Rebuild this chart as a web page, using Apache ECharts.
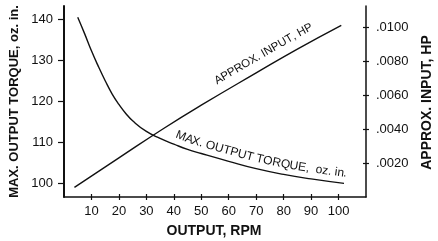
<!DOCTYPE html>
<html>
<head>
<meta charset="utf-8">
<style>
html,body{margin:0;padding:0;background:#fff}
#main{width:438px;height:241px}
</style>
<script src="https://cdn.jsdelivr.net/npm/echarts@6/dist/echarts.min.js"></script>
</head>
<body>
<div id="main"></div>
<script>
var rpmTorque = [5, 7.5, 10, 12.5, 15, 17.5, 20, 22.5, 25, 30, 35, 40, 45, 50, 60, 70, 80, 90, 102]
var torque = [140.5, 136.5, 132.3, 128.5, 125.0, 121.8, 119.2, 117.0, 115.2, 112.6, 110.9, 109.5, 108.2, 107.2, 105.3, 103.5, 102.1, 101.0, 99.9]
var rpmInput = [3.8, 20, 36, 50, 70, 85, 101]
var inputHp = [0.00057, 0.0023, 0.0040, 0.0054, 0.0073, 0.0087, 0.0101]
var rpmLabels = [10, 20, 30, 40, 50, 60, 70, 80, 90, 100]
var torqueTicks = [100, 110, 120, 130, 140]
var hpTicks = [0.002, 0.004, 0.006, 0.008, 0.010]

var font = '"Liberation Sans", Arial, Helvetica, sans-serif'
var black = '#111'

function pairs(xs, ys) {
  var out = []
  for (var i = 0; i < xs.length; i++) out.push([xs[i], ys[i]])
  return out
}
function interp(xs, ys, x) {
  for (var i = 1; i < xs.length; i++) {
    if (x <= xs[i]) {
      var t = (x - xs[i - 1]) / (xs[i] - xs[i - 1])
      return ys[i - 1] + t * (ys[i] - ys[i - 1])
    }
  }
  return ys[ys.length - 1]
}

var myChart = echarts.init(document.getElementById('main'))
var option = {
  animation: false,
  backgroundColor: '#fff',
  grid: { left: 64, right: 72, top: 6, bottom: 44 },
  xAxis: [
    {
      type: 'value', min: 0, max: 110, interval: 10,
      axisLine: { show: true, onZero: false, lineStyle: { color: black, width: 1.5 } },
      axisTick: { show: true, customValues: rpmLabels, length: 3, lineStyle: { color: black, width: 1.2 } },
      axisLabel: { customValues: rpmLabels, color: black, fontSize: 13, fontFamily: font, margin: 8 },
      splitLine: { show: false }
    },
    {
      type: 'value', min: 0, max: 110, position: 'bottom',
      axisLine: { show: false, onZero: false },
      axisTick: { show: true, customValues: rpmLabels, inside: true, length: 3, lineStyle: { color: black, width: 1.2 } },
      axisLabel: { show: false },
      splitLine: { show: false }
    }
  ],
  yAxis: [
    {
      type: 'value', min: 96.58, max: 143.25, position: 'left',
      axisLine: { show: true, onZero: false, lineStyle: { color: black, width: 2 } },
      axisTick: { show: true, customValues: torqueTicks, length: 6, lineStyle: { color: black, width: 1.2 } },
      axisLabel: { customValues: torqueTicks, color: black, fontSize: 13, fontFamily: font, margin: 11 },
      splitLine: { show: false }
    },
    {
      type: 'value', min: 0, max: 0.011235, position: 'right',
      axisLine: { show: true, onZero: false, lineStyle: { color: black, width: 1.5 } },
      axisTick: { show: true, customValues: hpTicks, length: 3, lineStyle: { color: black, width: 1.2 } },
      axisLabel: {
        customValues: hpTicks, color: black, fontSize: 13, fontFamily: font, margin: 10,
        formatter: function (v) { return v.toFixed(4).replace('0.', '.') }
      },
      splitLine: { show: false }
    },
    {
      type: 'value', min: 0, max: 0.011235, position: 'right',
      axisLine: { show: false, onZero: false },
      axisTick: { show: true, inside: true, customValues: hpTicks, length: 3, lineStyle: { color: black, width: 1.2 } },
      axisLabel: { show: false },
      splitLine: { show: false }
    }
  ],
  series: [
    {
      name: 'MAX. OUTPUT TORQUE', type: 'line', xAxisIndex: 0, yAxisIndex: 0,
      data: pairs(rpmTorque, torque), smooth: true, showSymbol: false,
      lineStyle: { color: black, width: 1.4 }
    },
    {
      name: 'APPROX. INPUT, HP', type: 'line', xAxisIndex: 0, yAxisIndex: 1,
      data: pairs(rpmInput, inputHp), smooth: true, showSymbol: false,
      lineStyle: { color: black, width: 1.4 }
    }
  ]
}
myChart.setOption(option)

// lay text out letter by letter along a curve, just above it
var ctx = document.createElement('canvas').getContext('2d')
function textOnCurve(text, xs, ys, axis, rpmStart, gap, size) {
  var finder = { xAxisIndex: 0, yAxisIndex: axis }
  var f = size + 'px ' + font
  ctx.font = f
  var out = []
  var rpm = rpmStart
  for (var i = 0; i < text.length; i++) {
    var ch = text[i]
    var w = ctx.measureText(ch).width
    var p = myChart.convertToPixel(finder, [rpm, interp(xs, ys, rpm)])
    var q = myChart.convertToPixel(finder, [rpm + 2, interp(xs, ys, rpm + 2)])
    var a = Math.atan2(q[1] - p[1], q[0] - p[0])
    if (ch !== ' ') {
      out.push({
        type: 'text', x: p[0] + Math.sin(a) * gap, y: p[1] - Math.cos(a) * gap, rotation: -a,
        style: { text: ch, fill: black, font: f, align: 'left', verticalAlign: 'bottom' }
      })
    }
    var back = myChart.convertFromPixel(finder, [p[0] + Math.cos(a) * w, p[1]])
    rpm = back[0]
  }
  return out
}

var graphics = []
graphics = graphics.concat(textOnCurve('APPROX. INPUT, HP', rpmInput, inputHp, 1, 57.5, 7, 11.5))
graphics = graphics.concat(textOnCurve('MAX. OUTPUT TORQUE,  oz. in.', rpmTorque, torque, 0, 39.5, 4, 12))
graphics.push(
  {
    type: 'text', x: 14, y: 101.5, rotation: Math.PI / 2,
    style: { text: 'MAX. OUTPUT TORQUE, oz. in.', fill: black, font: 'bold 13px ' + font, align: 'center', verticalAlign: 'middle' }
  },
  {
    type: 'text', x: 427, y: 102.5, rotation: Math.PI / 2,
    style: { text: 'APPROX. INPUT, HP', fill: black, font: 'bold 14px ' + font, align: 'center', verticalAlign: 'middle' }
  },
  {
    type: 'text', x: 214, y: 231,
    style: { text: 'OUTPUT, RPM', fill: black, font: 'bold 14px ' + font, align: 'center', verticalAlign: 'middle' }
  }
)
myChart.setOption({ graphic: graphics })
</script>
</body>
</html>
